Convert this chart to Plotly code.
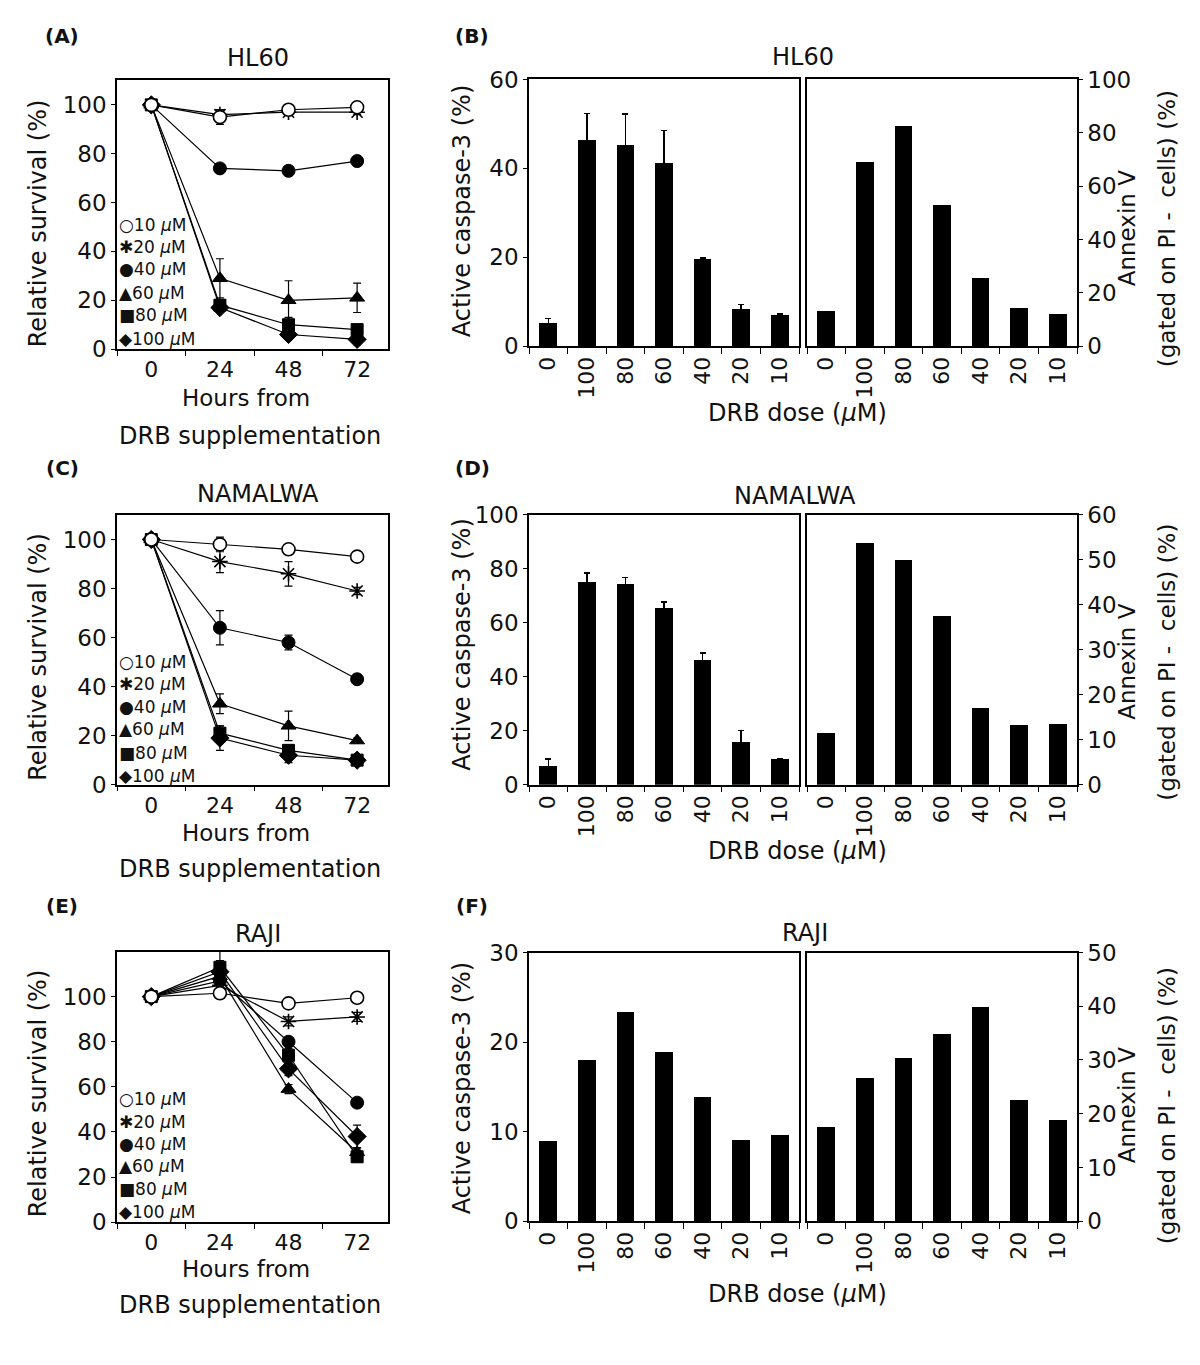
import plotly.graph_objects as go

W, H = 1200, 1365
FONT = "DejaVu Sans, Liberation Sans, Arial, sans-serif"

# ---------------- data ----------------
hours = ["0", "24", "48", "72"]
dose_labels = ["10", "20", "40", "60", "80", "100"]

# HL60 relative survival (%)
hl60_10 = [100, 95, 98, 99]
hl60_20 = [100, 96, 97, 97]
hl60_40 = [100, 74, 73, 77]
hl60_60 = [100, 29, 20, 21]
hl60_80 = [100, 18, 10, 8]
hl60_100 = [100, 17, 6, 4]
hl60_err_10 = [0, 3, 1, 1]
hl60_err_20 = [0, 2, 1, 1]
hl60_err_40 = [0, 1, 1, 1]
hl60_err_60 = [0, 8, 8, 6]
hl60_err_80 = [0, 2, 3, 2]
hl60_err_100 = [0, 1, 1, 1]

# NAMALWA relative survival (%)
nam_10 = [100, 98, 96, 93]
nam_20 = [100, 91, 86, 79]
nam_40 = [100, 64, 58, 43]
nam_60 = [100, 33, 24, 18]
nam_80 = [100, 21, 14, 10]
nam_100 = [100, 19, 12, 10]
nam_err_10 = [0, 3, 1, 1]
nam_err_20 = [0, 4.5, 5, 1.5]
nam_err_40 = [0, 7, 3, 2]
nam_err_60 = [0, 4, 6, 1]
nam_err_80 = [0, 3, 2, 1]
nam_err_100 = [0, 5, 3, 1]

# RAJI relative survival (%)
raji_10 = [100, 101.5, 97, 99.5]
raji_20 = [100, 105, 89, 91]
raji_40 = [100, 107, 80, 53]
raji_60 = [100, 109, 59, 31]
raji_80 = [100, 113, 74, 29]
raji_100 = [100, 111, 68, 38]
raji_err_10 = [0, 1, 1, 1]
raji_err_20 = [0, 2, 2, 2]
raji_err_40 = [0, 3, 2, 1]
raji_err_60 = [0, 4, 2, 2]
raji_err_80 = [0, 7, 3, 1]
raji_err_100 = [0, 5, 3, 5]

# bar charts
dose_cats = ["0", "100", "80", "60", "40", "20", "10"]
hl60_casp = [5.2, 46.3, 45.2, 41.0, 19.6, 8.3, 7.0]
hl60_casp_err = [1.0, 6.0, 7.0, 7.5, 0.2, 1.0, 0.2]
hl60_annex = [13.0, 69.0, 82.3, 52.8, 25.3, 14.0, 11.8]
nam_casp = [6.8, 75.0, 74.3, 65.7, 46.3, 16.0, 9.5]
nam_casp_err = [2.7, 3.5, 2.6, 2.0, 2.5, 4.0, 0.3]
nam_annex = [11.6, 53.7, 50.0, 37.6, 17.1, 13.2, 13.6]
raji_casp = [9.0, 18.1, 23.4, 19.0, 13.9, 9.1, 9.7]
raji_annex = [17.7, 26.7, 30.4, 35.0, 40.0, 22.7, 19.0]

# ---------------- helpers ----------------
# map target-picture pixels to figure pixels (compensates the page offset seen in rendering)
def X(x):
    return x - 8

def Y(y):
    return (y - 20.5) / 0.982

def dx(a, b):
    return [X(a) / W, X(b) / W]

def dy(top, bottom):
    return [1 - Y(bottom) / H, 1 - Y(top) / H]

def px(x):
    return X(x) / W

def py(y):
    return 1 - Y(y) / H

fig = go.Figure()

marker_styles = {
    "10": dict(symbol="circle", color="white", size=13, line=dict(color="black", width=1.6)),
    "20": dict(symbol="asterisk-open", color="black", size=13, line=dict(color="black", width=1.6)),
    "40": dict(symbol="circle", color="black", size=13, line=dict(color="black", width=1)),
    "60": dict(symbol="triangle-up", color="black", size=13, line=dict(color="black", width=1)),
    "80": dict(symbol="square", color="black", size=12, line=dict(color="black", width=1)),
    "100": dict(symbol="diamond", color="black", size=14, line=dict(color="black", width=1)),
}
draw_order = ["100", "60", "40", "80", "20", "10"]

line_sets = [
    ("x", "y", {"10": (hl60_10, hl60_err_10), "20": (hl60_20, hl60_err_20), "40": (hl60_40, hl60_err_40),
                "60": (hl60_60, hl60_err_60), "80": (hl60_80, hl60_err_80), "100": (hl60_100, hl60_err_100)}),
    ("x2", "y2", {"10": (nam_10, nam_err_10), "20": (nam_20, nam_err_20), "40": (nam_40, nam_err_40),
                  "60": (nam_60, nam_err_60), "80": (nam_80, nam_err_80), "100": (nam_100, nam_err_100)}),
    ("x3", "y3", {"10": (raji_10, raji_err_10), "20": (raji_20, raji_err_20), "40": (raji_40, raji_err_40),
                  "60": (raji_60, raji_err_60), "80": (raji_80, raji_err_80), "100": (raji_100, raji_err_100)}),
]

for xa, ya, data in line_sets:
    for d in draw_order:
        vals, errs = data[d]
        fig.add_trace(go.Scatter(
            x=hours, y=vals, xaxis=xa, yaxis=ya, mode="lines+markers",
            line=dict(color="black", width=1.2),
            marker=marker_styles[d],
            error_y=dict(type="data", array=errs, visible=True, color="black", thickness=1.2, width=4),
            showlegend=False, hoverinfo="skip", cliponaxis=False,
        ))

bar_sets = [
    ("x4", "y4", hl60_casp, hl60_casp_err),
    ("x5", "y5", hl60_annex, None),
    ("x6", "y6", nam_casp, nam_casp_err),
    ("x7", "y7", nam_annex, None),
    ("x8", "y8", raji_casp, None),
    ("x9", "y9", raji_annex, None),
]
for xa, ya, vals, errs in bar_sets:
    kw = {}
    if errs is not None:
        kw["error_y"] = dict(type="data", array=errs, visible=True, color="black", thickness=1.3, width=3)
    fig.add_trace(go.Bar(x=dose_cats, y=vals, xaxis=xa, yaxis=ya, width=0.46,
                         marker=dict(color="black", line=dict(width=0)),
                         showlegend=False, hoverinfo="skip", **kw))

# ---------------- axes ----------------
tickfont = dict(family=FONT, size=23, color="#111")
axis_common = dict(showline=True, linecolor="black", linewidth=1.5, mirror=True,
                   showgrid=False, zeroline=False, ticks="outside", tickcolor="black",
                   tickwidth=1.2, tickfont=tickfont, fixedrange=True)

layout_axes = {}
line_boxes = [((117, 388), (80, 349), 110), ((117, 388), (515, 785), 110), ((117, 388), (952, 1223), 120)]
for i, ((x0, x1), (t, b), ymax) in enumerate(line_boxes, start=1):
    sx = "" if i == 1 else str(i)
    layout_axes["xaxis" + sx] = dict(axis_common, domain=dx(x0, x1), anchor="y" + sx, type="category",
                                     categoryorder="array", categoryarray=hours,
                                     range=[-0.5, 3.45], tickson="boundaries", ticklen=5,
                                     tickfont=dict(family=FONT, size=22, color="#111"))
    layout_axes["yaxis" + sx] = dict(axis_common, domain=dy(t, b), anchor="x" + sx, range=[0, ymax],
                                     tickvals=[0, 20, 40, 60, 80, 100], ticklen=4)

bar_boxes = [
    (4, (529, 799), (79, 346), 60, 20, "left"),
    (5, (807, 1077), (79, 346), 100, 20, "right"),
    (6, (529, 799), (515, 785), 100, 20, "left"),
    (7, (807, 1077), (515, 785), 60, 10, "right"),
    (8, (529, 799), (953, 1222), 30, 10, "left"),
    (9, (807, 1077), (953, 1222), 50, 10, "right"),
]
for i, (x0, x1), (t, b), ymax, dt, side in bar_boxes:
    sx = str(i)
    layout_axes["xaxis" + sx] = dict(axis_common, domain=dx(x0, x1), anchor="y" + sx, type="category",
                                     categoryorder="array", categoryarray=dose_cats,
                                     range=[-0.5, 6.5], tickson="boundaries", ticklen=6, tickangle=-90,
                                     tickfont=dict(family=FONT, size=22, color="#111"))
    layout_axes["yaxis" + sx] = dict(axis_common, domain=dy(t, b), anchor="x" + sx, range=[0, ymax],
                                     dtick=dt, tick0=0, ticklen=4, side=side)

# ---------------- annotations ----------------
ann = []

def text(x, y, s, size=24, bold=False, angle=0, xanchor="center"):
    ann.append(dict(x=px(x), y=py(y), xref="paper", yref="paper", text=("<b>%s</b>" % s) if bold else s,
                    showarrow=False, textangle=angle, xanchor=xanchor, yanchor="middle",
                    font=dict(family=FONT, size=size, color="#111")))

# panel letters
for lbl, x, y in [("(A)", 62, 36), ("(B)", 472, 36), ("(C)", 62, 468),
                  ("(D)", 472, 468), ("(E)", 62, 906), ("(F)", 472, 906)]:
    text(x, y, lbl, size=20, bold=True)

# titles
text(258, 58, "HL60")
text(803, 57, "HL60")
text(258, 494, "NAMALWA")
text(795, 496, "NAMALWA")
text(258, 934, "RAJI")
text(805, 933, "RAJI")

# line chart axis titles
for yc, h1, h2 in [(223, 398, 436), (657, 833, 869), (1094, 1270, 1306)]:
    text(38, yc, "Relative survival (%)", angle=-90)
    text(246, h1, "Hours from", size=23)
    text(250, h2, "DRB supplementation")

# bar chart axis titles
for yc, xt in [(211, 413), (645, 851), (1089, 1295)]:
    text(462, yc, "Active caspase-3 (%)", angle=-90)
    text(1127, yc + 17, "Annexin V", angle=-90, size=23)
    text(1167, yc + 18, "(gated on PI -  cells) (%)", angle=-90, size=23)
    text(797, xt, "DRB dose (<i>μ</i>M)")

# in-plot legends
symbols = ["○", "✱", "●", "▲", "■", "◆"]
leg_rows = [
    [225, 247, 269, 293, 315, 339],
    [662, 684, 707, 729, 753, 776],
    [1100, 1123, 1145, 1167, 1190, 1213],
]
for rows in leg_rows:
    for sym, d, yy in zip(symbols, dose_labels, rows):
        text(117, yy, sym + d + " <i>μ</i>M", size=17, xanchor="left")

fig.update_layout(
    width=W, height=H, margin=dict(l=0, r=0, t=0, b=0),
    paper_bgcolor="white", plot_bgcolor="white",
    font=dict(family=FONT, color="#111"),
    showlegend=False, bargap=0, annotations=ann, hovermode=False,
    **layout_axes,
)

fig.write_html("out.html")
